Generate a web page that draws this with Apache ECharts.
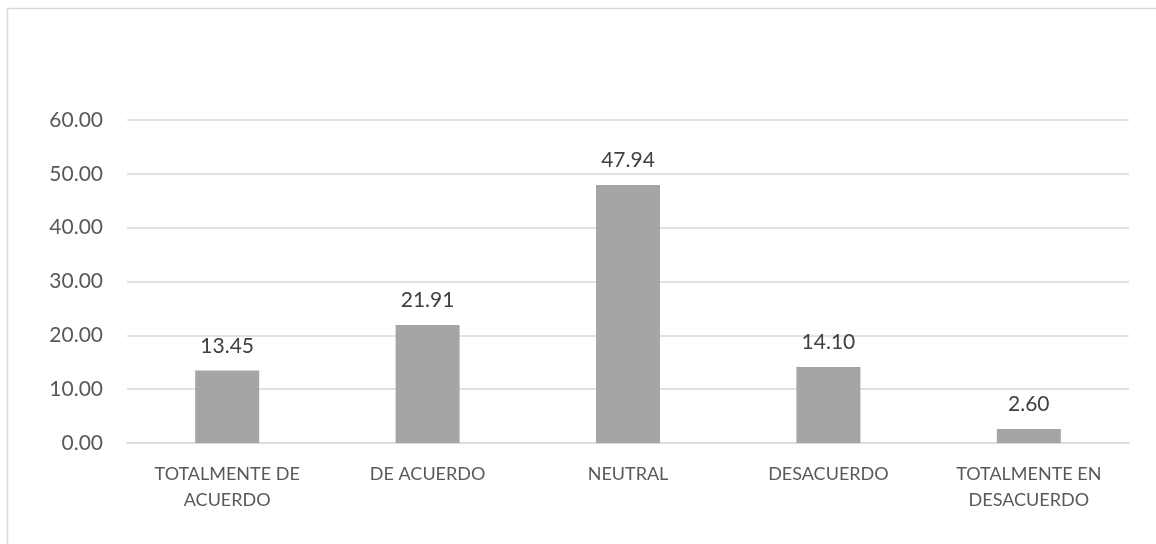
<!DOCTYPE html>
<html>
<head>
<meta charset="utf-8">
<script src="https://cdn.jsdelivr.net/npm/echarts@6/dist/echarts.min.js"></script>
<style>
  html, body { margin: 0; padding: 0; background: #ffffff; }
  #chart { width: 1156px; height: 544px; }
</style>
</head>
<body>
<div id="chart"></div>
<script>
// Response categories and percentages
const categories = [
  'TOTALMENTE DE\nACUERDO',
  'DE ACUERDO',
  'NEUTRAL',
  'DESACUERDO',
  'TOTALMENTE EN\nDESACUERDO'
];
const percentages = [13.45, 21.91, 47.94, 14.10, 2.60];

// Value axis range
const yMin = 0;
const yMax = 60;
const yStep = 10;

const FONT = 'Lato, "Open Sans", "Noto Sans", sans-serif';
const TEXT = '#595959';

const chart = echarts.init(document.getElementById('chart'), null, { renderer: 'canvas' });

chart.setOption({
  animation: false,
  backgroundColor: '#ffffff',
  graphic: [
    {
      // outer frame of the chart area
      type: 'rect',
      shape: { x: 7.5, y: 8.5, width: 1200, height: 600 },
      style: { fill: 'none', stroke: '#d9d9d9', lineWidth: 1.5 },
      silent: true
    }
  ],
  grid: { left: 127, right: 27, top: 120, bottom: 101, containLabel: false },
  xAxis: {
    type: 'category',
    data: categories,
    axisLine: { show: true, lineStyle: { color: '#d9d9d9', width: 1.5 } },
    axisTick: { show: false },
    axisLabel: {
      color: TEXT,
      fontFamily: FONT,
      fontSize: 18,
      lineHeight: 26,
      margin: 18,
      interval: 0
    }
  },
  yAxis: {
    type: 'value',
    min: yMin,
    max: yMax,
    interval: yStep,
    axisLine: { show: false },
    axisTick: { show: false },
    splitLine: { lineStyle: { color: '#d9d9d9', width: 1.5 } },
    axisLabel: {
      color: TEXT,
      fontFamily: FONT,
      fontSize: 21,
      margin: 24,
      formatter: v => v.toFixed(2)
    }
  },
  series: [
    {
      type: 'bar',
      data: percentages,
      barWidth: 64,
      itemStyle: { color: '#a5a5a5' },
      label: {
        show: true,
        position: 'top',
        distance: 14,
        color: '#404040',
        fontFamily: FONT,
        fontSize: 21,
        formatter: p => p.value.toFixed(2)
      }
    }
  ]
});
</script>
</body>
</html>
